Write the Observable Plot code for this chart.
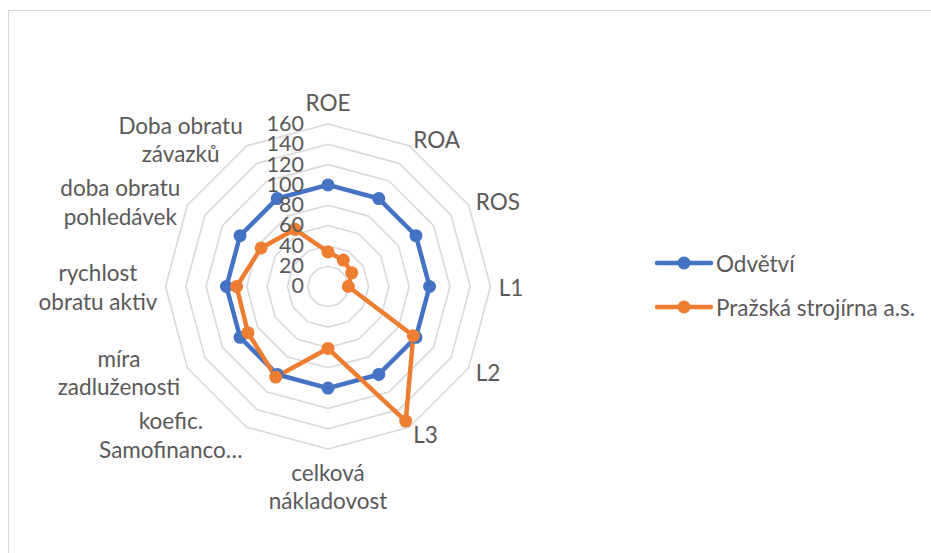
<!DOCTYPE html>
<html>
<head>
<meta charset="utf-8">
<script src="https://cdn.jsdelivr.net/npm/d3@7"></script>
<script src="https://cdn.jsdelivr.net/npm/@observablehq/plot@0.6"></script>
<style>
  html, body { margin: 0; padding: 0; overflow: hidden; background: #fff; }
  #wrap { position: relative; width: 931px; height: 553px; font-family: Lato, "Open Sans", sans-serif; color: #595959; }
  #frame { position: absolute; left: 8px; top: 10px; width: 960px; height: 600px; border: 1.5px solid #d9d9d9; box-sizing: border-box; }
  #chart { position: absolute; left: 0; top: 0; }
  #legend { position: absolute; left: 655px; top: 248px; font-size: 22.5px; }
  .item { display: flex; align-items: center; height: 30px; margin-bottom: 14px; white-space: nowrap; }
  .item svg { margin-right: 3px; }
</style>
</head>
<body>
<div id="wrap">
  <div id="frame"></div>
  <div id="chart"></div>
  <div id="legend"></div>
</div>
<script>
// ---- data ----
const categories = ["ROE", "ROA", "ROS", "L1", "L2", "L3",
  "celková\nnákladovost", "koefic.\nSamofinanco…", "míra\nzadluženosti",
  "rychlost\nobratu aktiv", "doba obratu\npohledávek", "Doba obratu\nzávazků"];
const seriesNames = ["Odvětví", "Pražská strojírna a.s."];
const odvetvi = [100, 100, 100, 100, 100, 100, 100, 100, 100, 100, 100, 100];
const prazska = [34, 30, 27, 20, 97, 153, 61, 103, 91, 90, 76, 65];
const ticks = [0, 20, 40, 60, 80, 100, 120, 140, 160];
const colors = ["#4472C4", "#ED7D31"];

// ---- layout ----
const W = 931, H = 553;
const cx = 327.5, cy = 286;      // centre in px
const k = 162.5 / 160;           // px per unit
const labelR = 168;
const fontSize = 22.5, tickSize = 21.5, lineH = 28.5;
const font = `${fontSize}px Lato`;

const n = categories.length;
const ang = i => (2 * Math.PI * i) / n;
const px = (v, i) => v * Math.sin(ang(i));
const py = (v, i) => v * Math.cos(ang(i));

// grid rings
const rings = [];
ticks.filter(t => t > 0).forEach(t => {
  for (let i = 0; i <= n; i++) rings.push({ t, x: px(t, i % n), y: py(t, i % n) });
});

// series points
const pts = [];
[odvetvi, prazska].forEach((arr, s) => arr.forEach((v, i) => pts.push({ s: seriesNames[s], i, v, x: px(v, i), y: py(v, i) })));

// category labels: block anchored just outside the outer ring
const ctx = document.createElement("canvas").getContext("2d");
ctx.font = font;
const labels = categories.map((c, i) => {
  const lines = c.split("\n");
  const w = Math.max(...lines.map(l => ctx.measureText(l).width));
  const h = lines.length * lineH;
  const s = Math.sin(ang(i)), co = Math.cos(ang(i));
  let x = px(labelR, i), y = py(labelR, i);
  if (s > 0.1) x += (w / 2) / k; else if (s < -0.1) x -= (w / 2) / k;
  if (co > 0.9) y += (h / 2) / k; else if (co < -0.9) y -= (h / 2) / k;
  return { c, x, y };
});

const chart = Plot.plot({
  width: W, height: H, margin: 0,
  x: { domain: [-cx / k, (W - cx) / k], range: [0, W], axis: null },
  y: { domain: [-(H - cy) / k, cy / k], range: [H, 0], axis: null },
  style: { fontFamily: "Lato, 'Open Sans', sans-serif", background: "transparent" },
  marks: [
    Plot.line(rings, { x: "x", y: "y", z: "t", stroke: "#d9d9d9", strokeWidth: 1.6 }),
    Plot.line(pts, { x: "x", y: "y", z: "s", stroke: d => d.s, curve: "linear-closed", strokeWidth: 4.5, strokeLinejoin: "round" }),
    Plot.dot(pts, { x: "x", y: "y", fill: d => d.s, r: 6.5, stroke: "none" }),
    Plot.text(ticks, { x: 0, y: d => d, text: d => String(d), textAnchor: "end", dx: -24, fontSize: tickSize, fill: "#595959" }),
    Plot.text(labels, { x: "x", y: "y", text: "c", textAnchor: "middle", lineAnchor: "middle", lineHeight: lineH / fontSize, fontSize: fontSize, fill: "#595959" })
  ],
  color: { domain: seriesNames, range: colors }
});
document.getElementById("chart").appendChild(chart);

// legend
const lg = document.getElementById("legend");
seriesNames.forEach((name, s) => {
  const div = document.createElement("div");
  div.className = "item";
  div.innerHTML = `<svg width="58" height="16"><line x1="2" x2="56" y1="8" y2="8" stroke="${colors[s]}" stroke-width="4.5" stroke-linecap="round"/><circle cx="29" cy="8" r="6.5" fill="${colors[s]}"/></svg><span>${name}</span>`;
  lg.appendChild(div);
});
</script>
</body>
</html>
